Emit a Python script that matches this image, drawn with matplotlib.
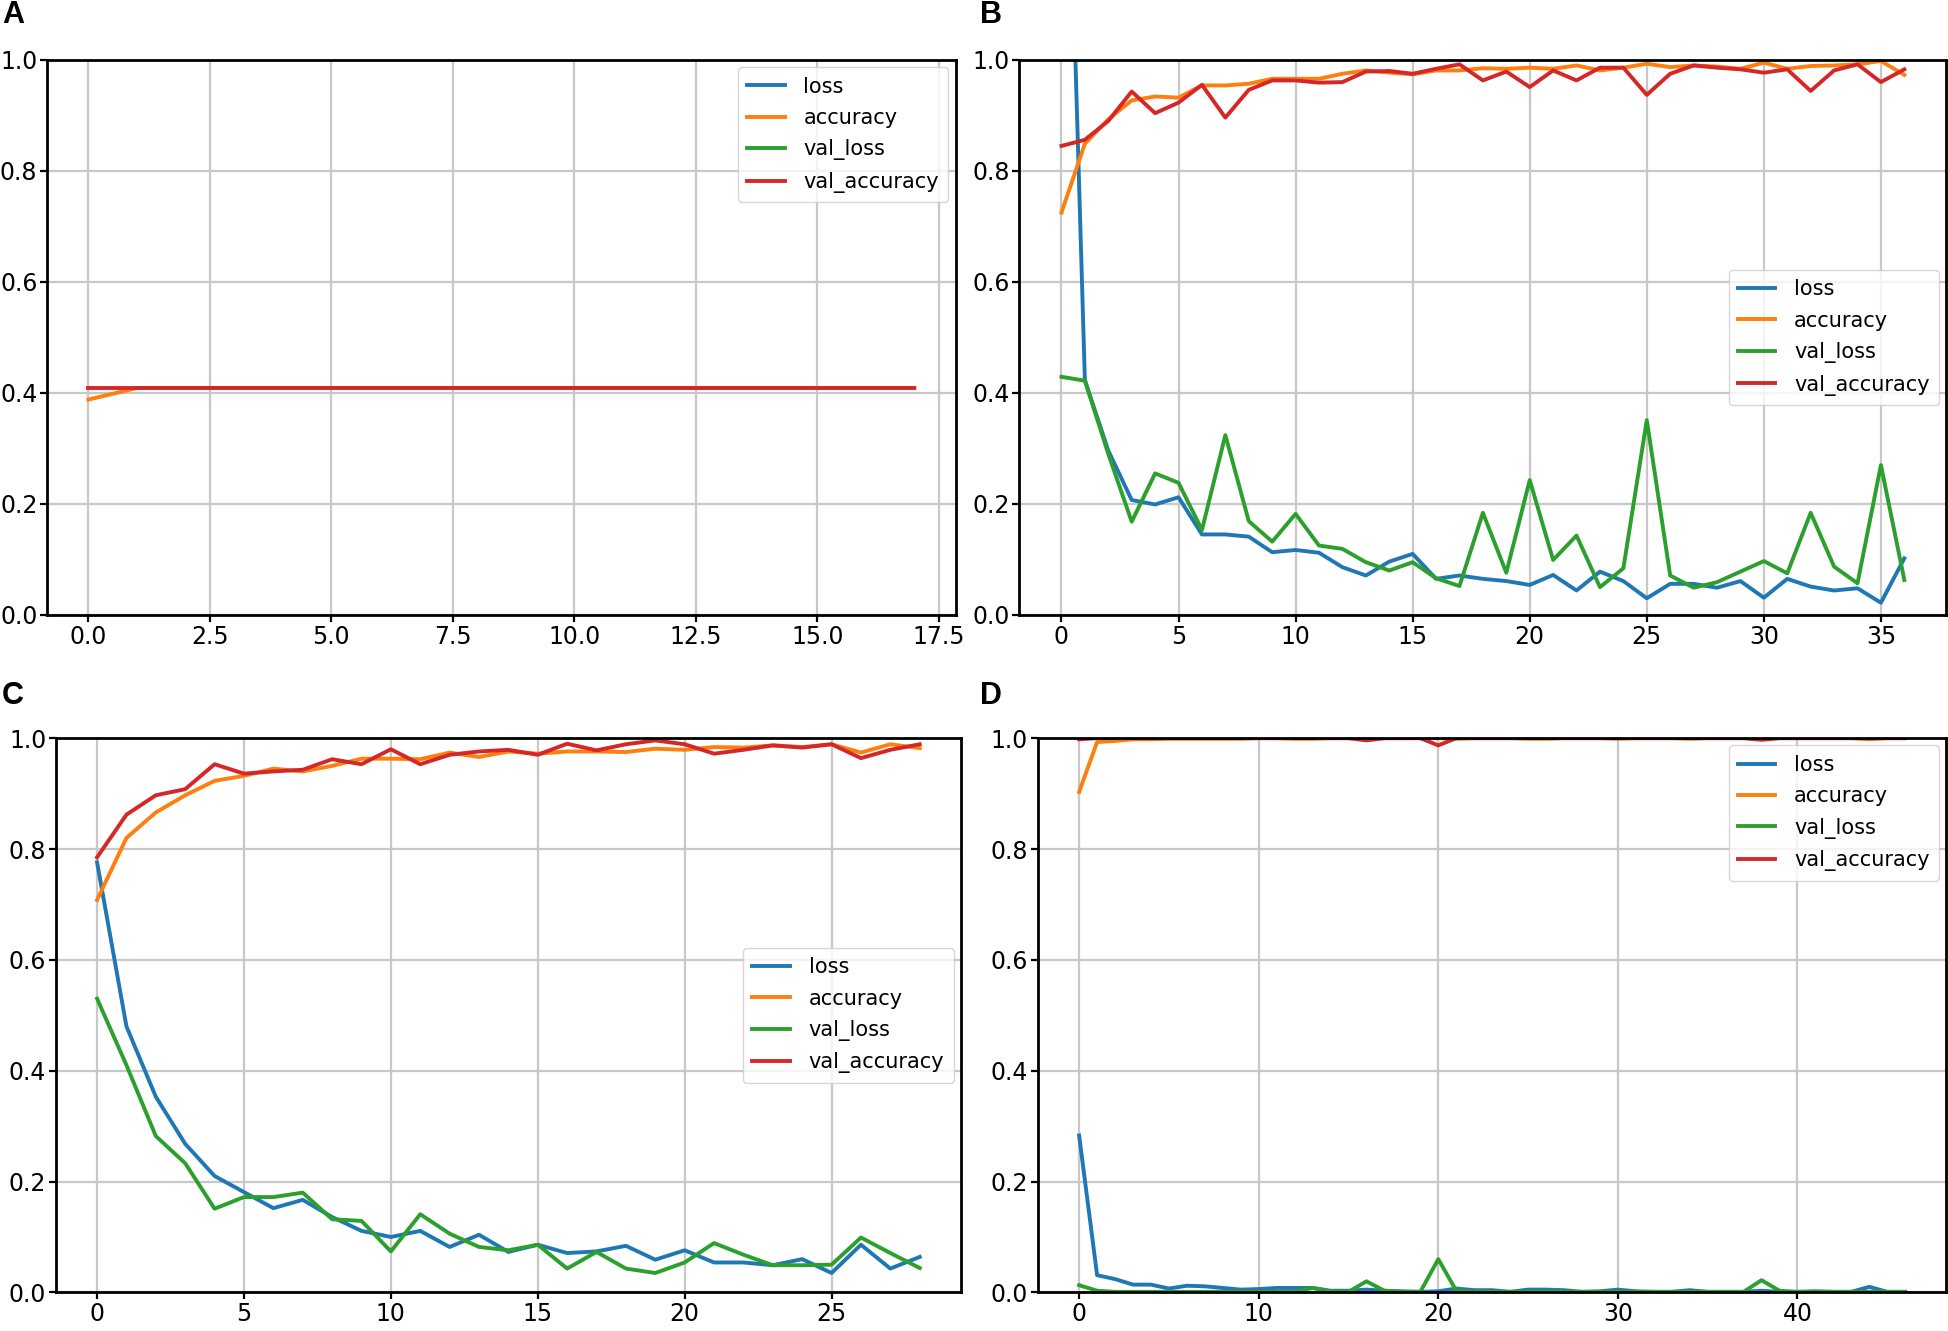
import matplotlib
matplotlib.use("Agg")
import matplotlib.pyplot as plt

plt.rcParams['font.family'] = ['DejaVu Sans']
FS = 17
LFS = 15

series_names = ["loss", "accuracy", "val_loss", "val_accuracy"]
colors = ["#1f77b4", "#ff7f0e", "#2ca02c", "#d62728"]

# Panel A (18 epochs) - loss curves lie above the visible range
a_loss = [1.12, 1.10, 1.09, 1.09, 1.09, 1.09, 1.09, 1.09, 1.09, 1.09, 1.09, 1.09, 1.09, 1.09, 1.09, 1.09, 1.09, 1.09]
a_acc = [0.388, 0.409, 0.409, 0.409, 0.409, 0.409, 0.409, 0.409, 0.409, 0.409, 0.409, 0.409, 0.409, 0.409, 0.409, 0.409, 0.409, 0.409]
a_val_loss = [1.10, 1.09, 1.09, 1.09, 1.09, 1.09, 1.09, 1.09, 1.09, 1.09, 1.09, 1.09, 1.09, 1.09, 1.09, 1.09, 1.09, 1.09]
a_val_acc = [0.409] * 18

# Panel B (37 epochs)
b_loss = [1.85, 0.423, 0.296, 0.207, 0.199, 0.212, 0.145, 0.145, 0.141, 0.113, 0.117, 0.112, 0.086, 0.071,
          0.096, 0.110, 0.065, 0.071, 0.065, 0.061, 0.054, 0.072, 0.044, 0.078, 0.061, 0.030, 0.056, 0.056,
          0.049, 0.061, 0.031, 0.065, 0.051, 0.044, 0.048, 0.022, 0.102]
b_acc = [0.725, 0.849, 0.893, 0.927, 0.934, 0.932, 0.954, 0.954, 0.957, 0.966, 0.966, 0.966, 0.975, 0.981,
         0.977, 0.974, 0.981, 0.981, 0.985, 0.984, 0.986, 0.984, 0.990, 0.981, 0.986, 0.993, 0.987, 0.990,
         0.988, 0.984, 0.995, 0.984, 0.989, 0.990, 0.992, 0.998, 0.973]
b_val_loss = [0.429, 0.422, 0.290, 0.168, 0.255, 0.238, 0.153, 0.324, 0.169, 0.132, 0.182, 0.125, 0.119, 0.095,
              0.080, 0.095, 0.066, 0.052, 0.184, 0.076, 0.243, 0.099, 0.143, 0.050, 0.084, 0.351, 0.071, 0.049,
              0.059, 0.078, 0.097, 0.075, 0.184, 0.087, 0.057, 0.270, 0.063]
b_val_acc = [0.845, 0.856, 0.890, 0.943, 0.904, 0.923, 0.955, 0.896, 0.946, 0.963, 0.963, 0.959, 0.960, 0.979,
             0.980, 0.975, 0.984, 0.992, 0.963, 0.979, 0.951, 0.981, 0.963, 0.986, 0.986, 0.937, 0.975, 0.990,
             0.986, 0.983, 0.977, 0.983, 0.944, 0.981, 0.992, 0.960, 0.983]

# Panel C (29 epochs)
c_loss = [0.776, 0.480, 0.353, 0.268, 0.210, 0.181, 0.152, 0.167, 0.136, 0.111, 0.100, 0.111, 0.082, 0.104,
          0.073, 0.086, 0.071, 0.074, 0.084, 0.059, 0.076, 0.054, 0.054, 0.049, 0.060, 0.035, 0.086, 0.043, 0.064]
c_acc = [0.708, 0.820, 0.866, 0.897, 0.923, 0.932, 0.945, 0.940, 0.950, 0.963, 0.963, 0.962, 0.974, 0.966,
         0.976, 0.972, 0.976, 0.976, 0.975, 0.981, 0.979, 0.984, 0.983, 0.987, 0.984, 0.989, 0.974, 0.989, 0.982]
c_val_loss = [0.530, 0.410, 0.282, 0.233, 0.151, 0.172, 0.172, 0.180, 0.132, 0.129, 0.074, 0.141, 0.106, 0.082,
              0.076, 0.086, 0.043, 0.073, 0.043, 0.035, 0.054, 0.089, 0.068, 0.049, 0.049, 0.050, 0.099, 0.071, 0.044]
c_val_acc = [0.785, 0.862, 0.897, 0.908, 0.953, 0.936, 0.940, 0.943, 0.962, 0.953, 0.980, 0.953, 0.970, 0.976,
             0.979, 0.970, 0.990, 0.978, 0.989, 0.996, 0.989, 0.972, 0.979, 0.987, 0.983, 0.989, 0.964, 0.979, 0.989]

# Panel D (47 epochs)
d_loss = [0.283, 0.031, 0.024, 0.014, 0.014, 0.007, 0.012, 0.011, 0.008, 0.005, 0.006, 0.008, 0.008, 0.008,
          0.003, 0.003, 0.005, 0.003, 0.002, 0.001, 0.002, 0.007, 0.004, 0.004, 0.001, 0.005, 0.005, 0.004,
          0.001, 0.002, 0.005, 0.002, 0.001, 0.001, 0.004, 0.001, 0.001, 0.001, 0.003, 0.001, 0.001, 0.002,
          0.001, 0.001, 0.010, 0.001, 0.001]
d_acc = [0.903, 0.993, 0.995, 0.998, 0.998, 0.999, 0.999, 0.999, 0.999, 0.999, 1.000, 1.000, 0.999, 0.999,
         1.000, 1.000, 0.999, 1.000, 1.000, 1.000, 1.000, 0.999, 1.000, 1.000, 1.000, 0.999, 0.999, 1.000,
         1.000, 1.000, 0.999, 1.000, 1.000, 1.000, 0.999, 1.000, 1.000, 1.000, 0.999, 1.000, 1.000, 1.000,
         1.000, 1.000, 0.998, 1.000, 1.000]
d_val_loss = [0.013, 0.003, 0.001, 0.001, 0.001, 0.001, 0.001, 0.001, 0.001, 0.001, 0.001, 0.001, 0.001, 0.008,
              0.002, 0.001, 0.020, 0.003, 0.001, 0.001, 0.060, 0.003, 0.001, 0.001, 0.001, 0.001, 0.001, 0.001,
              0.001, 0.001, 0.001, 0.001, 0.001, 0.001, 0.001, 0.001, 0.001, 0.001, 0.022, 0.003, 0.001, 0.001,
              0.001, 0.001, 0.001, 0.001, 0.001]
d_val_acc = [0.998, 1.000, 1.000, 1.000, 1.000, 1.000, 1.000, 1.000, 1.000, 1.000, 1.000, 1.000, 1.000, 1.000,
             1.000, 1.000, 0.996, 1.000, 1.000, 1.000, 0.987, 1.000, 1.000, 1.000, 1.000, 1.000, 1.000, 1.000,
             1.000, 1.000, 1.000, 1.000, 1.000, 1.000, 1.000, 1.000, 1.000, 1.000, 0.997, 1.000, 1.000, 1.000,
             1.000, 1.000, 1.000, 1.000, 1.000]

panels = [
    ("A", [a_loss, a_acc, a_val_loss, a_val_acc], [0.0242, 0.538, 0.4662, 0.417], "upper right", (0.001, 0.989)),
    ("B", [b_loss, b_acc, b_val_loss, b_val_acc], [0.523, 0.538, 0.4757, 0.417], "center right", (0.503, 0.989)),
    ("C", [c_loss, c_acc, c_val_loss, c_val_acc], [0.0287, 0.029, 0.4643, 0.4164], "center right", (0.001, 0.477)),
    ("D", [d_loss, d_acc, d_val_loss, d_val_acc], [0.5325, 0.029, 0.4662, 0.4164], "upper right", (0.503, 0.477)),
]

fig = plt.figure(figsize=(19.49, 13.31), dpi=100)
for label, data, rect, loc, lpos in panels:
    ax = fig.add_axes(rect)
    for name, vals, col in zip(series_names, data, colors):
        ax.plot(range(len(vals)), vals, color=col, lw=2.8, label=name)
    ax.set_ylim(0, 1.0)
    ax.set_yticks([0.0, 0.2, 0.4, 0.6, 0.8, 1.0])
    ax.grid(True, color="#c8c8c8", lw=1.6)
    ax.tick_params(labelsize=FS, width=1.6, length=5, pad=2)
    for sp in ax.spines.values():
        sp.set_linewidth(2.0)
    ax.legend(loc=loc, fontsize=LFS, handlelength=1.8, borderpad=0.45, labelspacing=0.55,
              handletextpad=0.9, borderaxespad=0.35)
    fig.text(lpos[0], lpos[1], label, fontsize=22, fontweight="bold",
             family=["Liberation Sans", "DejaVu Sans"], va="center", ha="left")

fig.savefig("out.png", dpi=100)
